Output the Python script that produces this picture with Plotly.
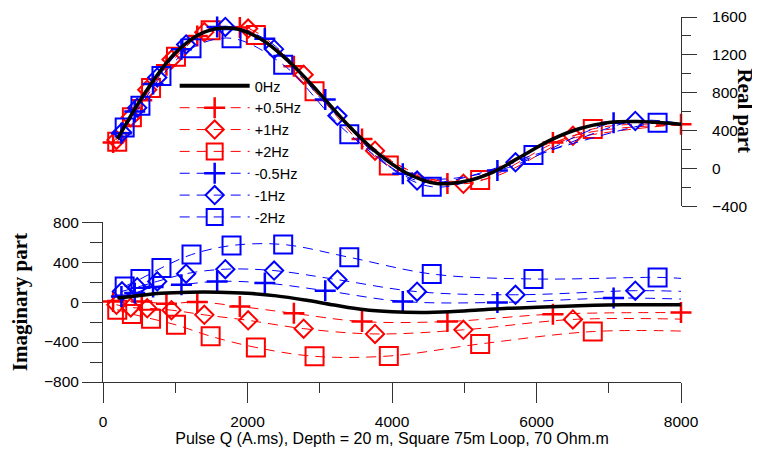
import plotly.graph_objects as go

# pulse moment Q (A.ms) at the marker positions of each series
q_p05 = [140, 536, 878, 1305, 1894, 2642, 3585, 4767, 6227, 8000]
q_p1 = [186, 384, 612, 948, 1402, 2009, 2777, 3765, 4988, 6504]
q_p2 = [197, 400, 665, 1010, 1490, 2116, 2928, 3956, 5220, 6779]
q_m05 = [255, 439, 693, 1086, 1580, 2240, 3076, 4149, 5459, 7067]
q_m1 = [263, 474, 751, 1150, 1693, 2368, 3245, 4347, 5709, 7367]
q_m2 = [300, 518, 809, 1225, 1779, 2494, 3409, 4550, 5958, 7676]

# real part
re_p05 = [272, 720, 1090, 1400, 1490, 1080, 310, -160, 273, 465]
re_p1 = [300, 540, 830, 1150, 1440, 1478, 990, 186, -164, 343]
re_p2 = [280, 540, 850, 1180, 1460, 1410, 814, 28, -125, 415]
re_m05 = [370, 600, 890, 1260, 1495, 1370, 727, -59, -24, 482]
re_m1 = [380, 640, 960, 1310, 1495, 1260, 555, -130, 63, 500]
re_m2 = [430, 660, 975, 1270, 1375, 1095, 360, -195, 140, 482]

# imaginary part
im_p05 = [6, 6, -17, 1, -44, -113, -195, -195, -121, -105]
im_p1 = [-27, -54, -62, -81, -128, -183, -266, -319, -278, -174]
im_p2 = [-77, -120, -166, -228, -342, -454, -543, -540, -419, -295]
im_m05 = [56, 90, 151, 174, 207, 191, 114, 6, -4, 40]
im_m1 = [107, 149, 207, 284, 329, 315, 224, 104, 73, 114]
im_m2 = [157, 231, 342, 475, 566, 576, 448, 281, 231, 247]

# value of the dashed curves at Q = 8000 (real, imag)
end_re = {"+0.5Hz": None, "+1Hz": 460, "+2Hz": 455, "-0.5Hz": 465, "-1Hz": 470, "-2Hz": 470}
end_im = {"+0.5Hz": None, "+1Hz": -171, "+2Hz": -290, "-0.5Hz": 30, "-1Hz": 107, "-2Hz": 237}

# 0 Hz reference curves
q0_re = [200, 600, 1000, 1400, 1800, 2200, 2600, 3000, 3400, 3800, 4200, 4600, 5000,
         5400, 5800, 6200, 6600, 7000, 7400, 7800, 8000]
re_0 = [310, 820, 1220, 1440, 1480, 1360, 1110, 790, 450, 160, -50, -160, -140,
        -40, 130, 300, 420, 485, 495, 478, 465]
q0_im = [200, 400, 800, 1200, 1600, 2000, 2400, 2800, 3200, 3600, 4000, 4400, 4800,
         5200, 5600, 6000, 6400, 6800, 7200, 7600, 8000]
im_0 = [40, 56, 87, 99, 99, 88, 62, 20, -30, -75, -97, -104, -97,
        -80, -62, -53, -42, -33, -27, -26, -27]

RED = "#ff0000"
BLUE = "#0000ff"
series = [
    ("+0.5Hz", q_p05, re_p05, im_p05, RED, "cross-thin", 15),
    ("+1Hz", q_p1, re_p1, im_p1, RED, "diamond-open", 14),
    ("+2Hz", q_p2, re_p2, im_p2, RED, "square-open", 18),
    ("-0.5Hz", q_m05, re_m05, im_m05, BLUE, "cross-thin", 15),
    ("-1Hz", q_m1, re_m1, im_m1, BLUE, "diamond-open", 14),
    ("-2Hz", q_m2, re_m2, im_m2, BLUE, "square-open", 18),
]

fig = go.Figure()

# legend-only entries
fig.add_trace(go.Scatter(x=[None], y=[None], mode="lines", name="0Hz",
                         line=dict(color="black", width=4)))
for name, q, re, im, col, sym, sz in series:
    lw = 2.5 if sym == "cross-thin" else 2
    fig.add_trace(go.Scatter(x=[None], y=[None], mode="lines+markers", name=name,
                             line=dict(color=col, width=1, dash="10px,7px"),
                             marker=dict(symbol=sym, size=sz, color=col, line=dict(color=col, width=lw))))

for name, q, re, im, col, sym, sz in series:
    lw = 2.5 if sym == "cross-thin" else 2
    for yax, vals, tail in (("y2", re, end_re[name]), ("y", im, end_im[name])):
        xl = list(q) + ([8000] if tail is not None else [])
        yl = list(vals) + ([tail] if tail is not None else [])
        fig.add_trace(go.Scatter(x=xl, y=yl, yaxis=yax, mode="lines", showlegend=False,
                                 line=dict(color=col, width=1, dash="10px,7px", shape="spline")))
        fig.add_trace(go.Scatter(x=q, y=vals, yaxis=yax, mode="markers", showlegend=False,
                                 cliponaxis=False,
                                 marker=dict(symbol=sym, size=sz, color=col,
                                             line=dict(color=col, width=lw))))

fig.add_trace(go.Scatter(x=q0_re, y=re_0, yaxis="y2", mode="lines", showlegend=False,
                         line=dict(color="black", width=3.5, shape="spline")))
fig.add_trace(go.Scatter(x=q0_im, y=im_0, yaxis="y", mode="lines", showlegend=False,
                         line=dict(color="black", width=3.5, shape="spline")))

sans = "Arial, Liberation Sans"
serif = "Times New Roman, Liberation Serif"
tickfont = dict(family=sans, size=15.5, color="black")
# page body adds an 8px margin, so the figure is 752x442
fig.update_layout(
    width=752, height=442,
    margin=dict(l=95, r=79, t=9, b=68),
    plot_bgcolor="white", paper_bgcolor="white",
    showlegend=True,
    legend=dict(x=0.124, y=0.855, xanchor="left", yanchor="top", bgcolor="rgba(0,0,0,0)",
                font=dict(family=sans, size=14.5, color="black"),
                itemwidth=70, tracegroupgap=0),
    xaxis=dict(range=[0, 8000], dtick=2000, showgrid=False, zeroline=False, showline=True,
               linecolor="#333", linewidth=1, ticks="outside", ticklen=20, tickcolor="#333",
               minor=dict(dtick=1000, ticks="outside", ticklen=10, tickcolor="#333"),
               tickfont=tickfont, anchor="y", ticklabelstandoff=5, automargin=False,
               title=dict(text="Pulse Q (A.ms), Depth = 20 m, Square 75m Loop, 70 Ohm.m",
                          font=dict(family=sans, size=16, color="black"), standoff=0)),
    yaxis=dict(domain=[0, 0.438], range=[-800, 800], dtick=400, showgrid=False, zeroline=False,
               showline=True, linecolor="#333", linewidth=1, ticks="outside", ticklen=20,
               tickcolor="#333", minor=dict(dtick=200, ticks="outside", ticklen=12, tickcolor="#333"),
               tickfont=tickfont, anchor="x", automargin=False,
               title=dict(text="<b>Imaginary part</b>",
                          font=dict(family=serif, size=21, color="black"), standoff=10)),
    yaxis2=dict(domain=[0.482, 1.0], range=[-400, 1600], dtick=400, showgrid=False, zeroline=False,
                showline=True, linecolor="#333", linewidth=1, ticks="outside", ticklen=15,
                tickcolor="#333", minor=dict(dtick=200, ticks="outside", ticklen=9, tickcolor="#333"),
                tickfont=tickfont, anchor="x", side="right", ticklabelstandoff=12,
                ticklabeloverflow="allow", automargin=False),
    annotations=[dict(text="<b>Real part</b>", textangle=90, xref="paper", yref="paper",
                      x=1.0, y=0.744, xanchor="center", yanchor="middle", xshift=64,
                      showarrow=False,
                      font=dict(family=serif, size=21, color="black"))],
)

fig.write_html("out.html")
